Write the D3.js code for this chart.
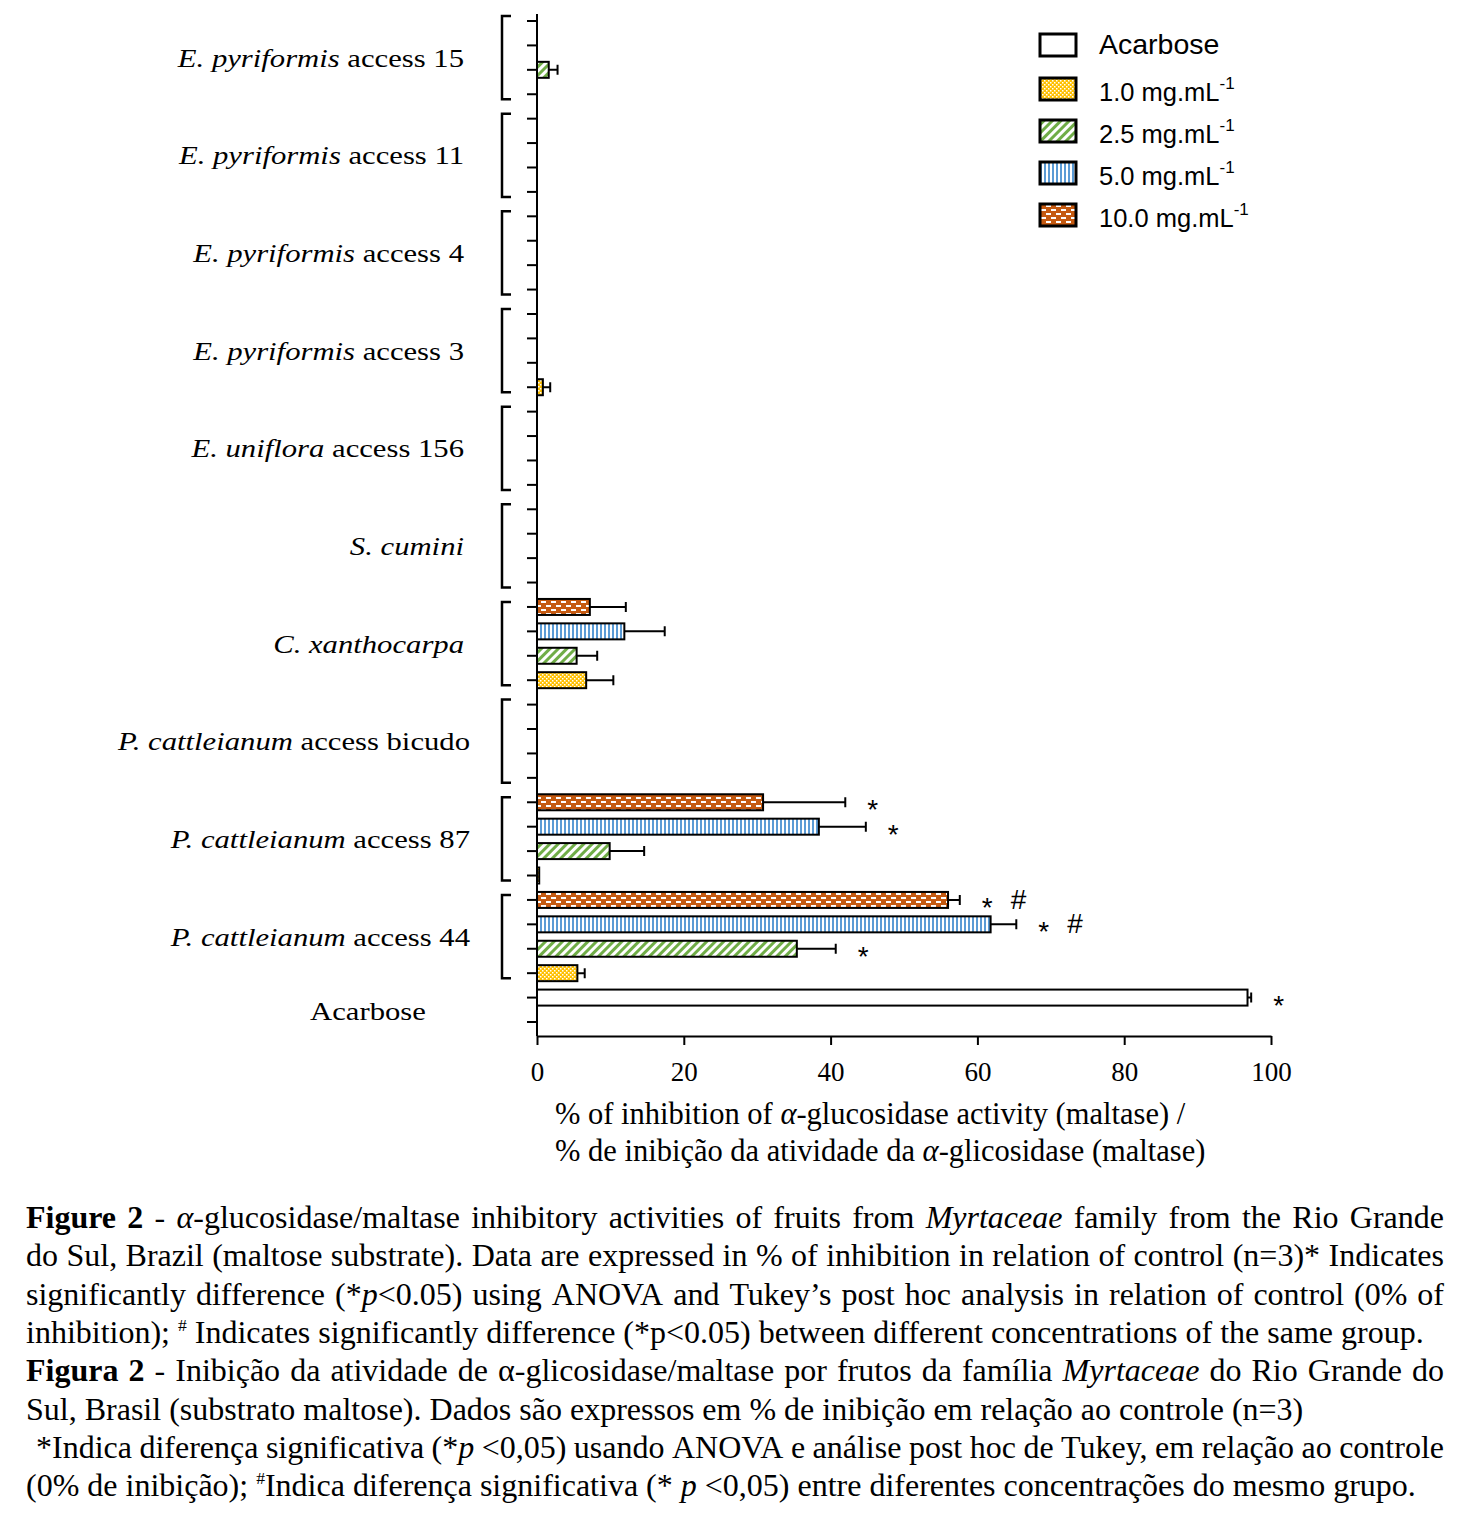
<!DOCTYPE html>
<html><head><meta charset="utf-8">
<script src="https://cdn.jsdelivr.net/npm/d3@7"></script>
<style>body{margin:0;background:#fff}</style>
</head><body>
<svg id="c" width="1477" height="1537" xmlns="http://www.w3.org/2000/svg"></svg>
<script>
// ---------- DATA ----------
const groupSpecies = ["E. pyriformis","E. pyriformis","E. pyriformis","E. pyriformis","E. uniflora","S. cumini","C. xanthocarpa","P. cattleianum","P. cattleianum","P. cattleianum"];
const groupAccess  = [" access 15"," access 11"," access 4"," access 3"," access 156","",""," access bicudo"," access 87"," access 44"];
const concentrations = ["1.0","2.5","5.0","10.0"];
// values per group (top to bottom), null = no bar
const values_1_0  = [null, null, null, 0.8, null, null, 6.7, null, 0.3, 5.5];
const errors_1_0  = [null, null, null, 1.0, null, null, 3.7, null, 0.0, 1.0];
const values_2_5  = [1.6, null, null, null, null, null, 5.4, null, 9.9, 35.4];
const errors_2_5  = [1.2, null, null, null, null, null, 2.8, null, 4.7, 5.3];
const values_5_0  = [null, null, null, null, null, null, 11.9, null, 38.4, 61.8];
const errors_5_0  = [null, null, null, null, null, null, 5.5, null, 6.4, 3.5];
const values_10_0 = [null, null, null, null, null, null, 7.2, null, 30.8, 56.0];
const errors_10_0 = [null, null, null, null, null, null, 4.9, null, 11.2, 1.6];
const marks_1_0  = ["","","","","","","","","",""];
const marks_2_5  = ["","","","","","","","","","*"];
const marks_5_0  = ["","","","","","","","","*","* #"];
const marks_10_0 = ["","","","","","","","","*","* #"];
const acarboseLabel = "Acarbose";
const acarboseValue = 96.8, acarboseError = 0.5, acarboseMark = "*";
const xTicks = [0,20,40,60,80,100];
const legendLabels = ["Acarbose","1.0 mg.mL","2.5 mg.mL","5.0 mg.mL","10.0 mg.mL"];
const axisTitle = ["% of inhibition of _α_-glucosidase activity (maltase) /","% de inibição da atividade da _α_-glicosidase (maltase)"];
const captionLines = [
 {t:"~Figure 2~ - _α_-glucosidase/maltase inhibitory activities of fruits from _Myrtaceae_ family from the Rio Grande", j:true},
 {t:"do Sul, Brazil (maltose substrate). Data are expressed in % of inhibition in relation of control (n=3)* Indicates", j:true},
 {t:"significantly difference (*_p_<0.05) using ANOVA and Tukey’s post hoc analysis in relation of control (0% of", j:true},
 {t:"inhibition); ^#^ Indicates significantly difference (*p<0.05) between different concentrations of the same group.", j:false},
 {t:"~Figura 2~ - Inibição da atividade de α-glicosidase/maltase por frutos da família _Myrtaceae_ do Rio Grande do", j:true},
 {t:"Sul, Brasil (substrato maltose). Dados são expressos em % de inibição em relação ao controle (n=3)", j:false},
 {t:"*Indica diferença significativa (*_p_ <0,05) usando ANOVA e análise post hoc de Tukey, em relação ao controle", j:true, indent:10},
 {t:"(0% de inibição); ^#^Indica diferença significativa (* _p_ <0,05) entre diferentes concentrações do mesmo grupo.", j:false}
];

// ---------- SETUP ----------
const svg = d3.select("#c");
const SERIF = "'Liberation Serif','Times New Roman',serif";
const SANS = "'Liberation Sans',Arial,sans-serif";
const colors = {"1.0":"#FFC000","2.5":"#70AD47","5.0":"#5B9BD5","10.0":"#C55A11"};

const defs = svg.append("defs");
let p = defs.append("pattern").attr("id","p1_0").attr("patternUnits","userSpaceOnUse").attr("width",4).attr("height",4);
p.append("rect").attr("width",4).attr("height",4).attr("fill",colors["1.0"]);
p.append("rect").attr("x",0).attr("y",0).attr("width",1.5).attr("height",1.5).attr("fill","#fff");
p.append("rect").attr("x",2).attr("y",2).attr("width",1.5).attr("height",1.5).attr("fill","#fff");
p = defs.append("pattern").attr("id","p2_5").attr("patternUnits","userSpaceOnUse").attr("width",6).attr("height",6).attr("patternTransform","rotate(45)");
p.append("rect").attr("width",6).attr("height",6).attr("fill","#fff");
p.append("rect").attr("width",3).attr("height",6).attr("fill",colors["2.5"]);
p = defs.append("pattern").attr("id","p5_0").attr("patternUnits","userSpaceOnUse").attr("width",4).attr("height",4);
p.append("rect").attr("width",4).attr("height",4).attr("fill","#fff");
p.append("rect").attr("width",2).attr("height",4).attr("fill",colors["5.0"]);
p = defs.append("pattern").attr("id","p10_0").attr("patternUnits","userSpaceOnUse").attr("width",10).attr("height",8);
p.append("rect").attr("width",10).attr("height",8).attr("fill",colors["10.0"]);
p.append("rect").attr("x",1).attr("y",1).attr("width",5).attr("height",2).attr("fill","#fff");
p.append("rect").attr("x",6).attr("y",5).attr("width",5).attr("height",2).attr("fill","#fff");
p.append("rect").attr("x",-4).attr("y",5).attr("width",5).attr("height",2).attr("fill","#fff");
const fillFor = c => "url(#p" + c.replace(".","_") + ")";

// scales
const x = d3.scaleLinear().domain([0,100]).range([537,1271]);
const nSlots = groupSpecies.length*4 + 2;
const y = d3.scalePoint().domain(d3.range(nSlots)).range([21,1022]);
const barH = 16;

const seriesData = {"1.0":[values_1_0,errors_1_0,marks_1_0],"2.5":[values_2_5,errors_2_5,marks_2_5],
                    "5.0":[values_5_0,errors_5_0,marks_5_0],"10.0":[values_10_0,errors_10_0,marks_10_0]};
const order = ["10.0","5.0","2.5","1.0"];
const bars = [];
groupSpecies.forEach((g,gi)=>{
  order.forEach((c,k)=>{
    const [v,e,m] = seriesData[c];
    if (v[gi]!==null) bars.push({slot: gi*4+k, value:v[gi], err:e[gi], mark:m[gi], fill:fillFor(c)});
  });
});
bars.push({slot: groupSpecies.length*4, value:acarboseValue, err:acarboseError, mark:acarboseMark, fill:"#fff"});

// y axis line + ticks
svg.append("line").attr("x1",537).attr("x2",537).attr("y1",y(0)-7).attr("y2",1036).attr("stroke","#000").attr("stroke-width",2);
svg.append("g").selectAll("line").data(d3.range(nSlots)).join("line")
  .attr("x1",527).attr("x2",537).attr("y1",d=>y(d)).attr("y2",d=>y(d)).attr("stroke","#000").attr("stroke-width",2);

// brackets
groupSpecies.forEach((g,gi)=>{
  const y0 = y(gi*4)-5, y1 = y(gi*4+3)+5;
  svg.append("path").attr("d",`M511,${y0}H502V${y1}H511`).attr("fill","none").attr("stroke","#000").attr("stroke-width",2.5);
});

// group labels (horizontally widened serif, like the reference)
const labelStretch = 1.18;
groupSpecies.forEach((g,gi)=>{
  const cy = (y(gi*4)+y(gi*4+3))/2;
  const xr = g.startsWith("P.") ? 470 : 464;
  const t = svg.append("text").attr("transform",`translate(${xr},${cy+9}) scale(${labelStretch},1)`).attr("text-anchor","end")
    .attr("font-family",SERIF).attr("font-size",26).attr("fill","#000");
  t.append("tspan").attr("font-style","italic").text(g);
  t.append("tspan").text(groupAccess[gi]);
});
{
  const a = groupSpecies.length*4;
  svg.append("text").attr("transform",`translate(368,${(y(a)+y(a+1))/2+10}) scale(${labelStretch},1)`).attr("text-anchor","middle")
    .attr("font-family",SERIF).attr("font-size",26).text(acarboseLabel);
}

// x axis
const xa = svg.append("g").attr("transform","translate(0,1036)")
  .call(d3.axisBottom(x).tickValues(xTicks).tickSize(9).tickSizeOuter(0).tickPadding(17));
xa.select(".domain").attr("stroke-width",2);
xa.selectAll(".tick line").attr("stroke-width",2);
xa.selectAll(".tick text").attr("font-family",SERIF).attr("font-size",27).attr("fill","#000");

// bars
const bg = svg.append("g");
bg.selectAll("rect").data(bars).join("rect")
  .attr("x",x(0)).attr("y",d=>y(d.slot)-barH/2)
  .attr("width",d=>Math.max(1,x(d.value)-x(0))).attr("height",barH)
  .attr("fill",d=>d.fill).attr("stroke","#000").attr("stroke-width",2);
bg.selectAll("path.err").data(bars.filter(d=>d.err>0)).join("path").attr("class","err")
  .attr("d",d=>`M${x(d.value)},${y(d.slot)}H${x(d.value+d.err)}M${x(d.value+d.err)},${y(d.slot)-5}V${y(d.slot)+5}`)
  .attr("stroke","#000").attr("stroke-width",2).attr("fill","none");
// significance marks
bars.filter(d=>d.mark).forEach(d=>{
  const x0 = x(d.value+d.err) + 22;
  d.mark.split(" ").forEach((m,i)=>{
    svg.append("text").attr("x",x0 + i*29).attr("y", m==="*" ? y(d.slot)+17 : y(d.slot)+9)
      .attr("font-family",SANS).attr("font-size",m==="*"?28:28).text(m);
  });
});

// legend
const legendFills = ["#fff", fillFor("1.0"), fillFor("2.5"), fillFor("5.0"), fillFor("10.0")];
const legendY = [45, 89, 131, 173, 215];
legendLabels.forEach((l,i)=>{
  svg.append("rect").attr("x",1040).attr("y",legendY[i]-11).attr("width",36).attr("height",22)
    .attr("fill",legendFills[i]).attr("stroke","#000").attr("stroke-width",3);
  const t = svg.append("text").attr("x",1099).attr("y",legendY[i]+ (i===0?9:12))
    .attr("font-family",SANS).attr("font-size",i===0?28.5:25.5).attr("fill","#000");
  t.append("tspan").text(l);
  if (i>0) t.append("tspan").attr("font-size",17).attr("dy",-12).text("-1");
});

// rich text helper
function parseLine(s){
  const words=[]; let cur=[]; let b=false,it=false,sup=false;
  for (const ch of s){
    if (ch==='~'){b=!b;continue;}
    if (ch==='_'){it=!it;continue;}
    if (ch==='^'){sup=!sup;continue;}
    if (ch===' '){ if(cur.length){words.push(cur);cur=[];} continue; }
    const last=cur[cur.length-1];
    if (last && last.b===b && last.i===it && last.s===sup) last.t+=ch;
    else cur.push({t:ch,b:b,i:it,s:sup});
  }
  if (cur.length) words.push(cur);
  return words;
}
function drawRich(str, x0, x1, yb, fs, justify){
  const words = parseLine(str);
  const els = words.map(w=>{
    const t = svg.append("text").attr("y",yb).attr("font-family",SERIF).attr("font-size",fs).attr("fill","#000");
    let shift=0;
    w.forEach(r=>{
      const ts = t.append("tspan").text(r.t);
      if (r.b) ts.attr("font-weight","bold");
      if (r.i) ts.attr("font-style","italic");
      const target = r.s ? -fs*0.38 : 0;
      if (target!==shift){ ts.attr("dy",target-shift); shift=target; }
      if (r.s) ts.attr("font-size",fs*0.55);
    });
    return t;
  });
  const widths = els.map(e=>e.node().getComputedTextLength());
  const sum = d3.sum(widths);
  const gap = (justify && els.length>1) ? (x1-x0-sum)/(els.length-1) : fs*0.25;
  let cx = x0;
  els.forEach((e,i)=>{ e.attr("x",cx); cx += widths[i]+gap; });
}

axisTitle.forEach((l,i)=> drawRich(l, 555, 0, 1124 + i*37, 30.5, false));
captionLines.forEach((l,i)=> drawRich(l.t, 26 + (l.indent||0), 1444, 1228 + i*38.3, 32, l.j));
</script>
</body></html>
